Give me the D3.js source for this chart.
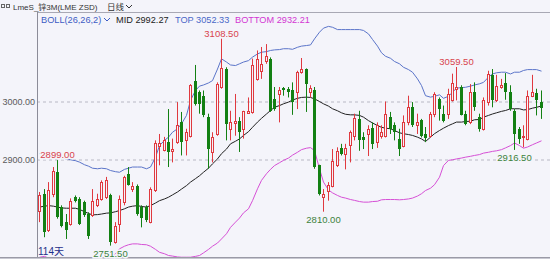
<!DOCTYPE html>
<html>
<head>
<meta charset="utf-8">
<script src="https://cdn.jsdelivr.net/npm/d3@7"></script>
<style>
  body { margin: 0; background: #f4f4fa; }
  svg { display: block; font-family: "Liberation Sans", Arial, "Noto Sans CJK SC", sans-serif; }
</style>
</head>
<body>
<div id="container"></div>
<script>
/* CONSTANTS AND GLOBALS */
const width = 550,
  height = 259,
  plot = { left: 37, right: 550, top: 13, bottom: 257 };

// daily candles (114 days)
const openP = [2812,2841,2778,2841,2878,2818,2793,2789,2835,2832,2826,2806,2804,2821,2832,2835,2839,2757.5,2789,2826,
  2875,2849,2855,2818,2818,2792,2847,2924,2917,2930,2914,2930,2964,2933,2941,3036,3016,3010,2973,2913,
  2944,3025,3056,2953,2963,2966,2953,2980,2982,3039,3053,3069,3074,3005,3013,3023,3022,3019,3016,3051,
  3056,3017,3019,2891,2835,2845,2855,2891,2920,2910,2925,2941,2970,2938,2944,2954,2930,2941,2941,2973,
  2959,2936,2924,2964,2990,2959,2968,2944,2941,2979,3005,2979,2979,3002,3022,3025,2979,2964,3017,2974,
  2953,2999,3045,3002,3025,3032,3016,2984,2953,2938.5,2936,3010,3015,2999];
const highP = [2844,2849,2861,2887,2899,2821,2806,2833,2838,2835,2829,2809,2849,2841,2864,2870,2841,2792,2838,2872,
  2887,2861,2857,2821,2821,2852,2933,2944,2939,2987,2936,2999,2982,2953,3030,3063,3019,3019,2979,2947,
  3033,3108.5,3059,2984,3013,2973,2984,3007,3074,3088,3094,3099,3076,3025,3025,3025,3025,3033,3053,3075,
  3057,3028,3025,2891,2849,2861,2918,2921,2927,2927,2950,2979,2984,2947,2959,2964,2964,2959,3000,2982,
  2964,2953,2976,3010,2999,2979,2970,2956,2982,3016,3007,2993,3022,3048,3059.5,3028,2984,3030,3033,2979,
  3007,3053,3056,3046,3039,3049,3028,2987,2956,2959,3019,3046,3022,3019];
const lowP = [2792,2766,2775,2835,2798,2783,2763,2786,2826,2787,2801,2763,2801,2818,2829,2832,2751.5,2755,2775,2821,
  2855,2844,2803,2783,2792,2790,2844,2890,2914,2887,2895,2927,2907,2907,2938,2993,2979,2973,2884,2895,
  2941,3022,2933,2933,2941,2913,2936,2979,2979,3036,3039,3065,2982,2984,2964,3010,3007,2977,2987,3048,
  2982,3007,2884,2838,2810,2829,2852,2887,2907,2883,2895,2933,2915,2918,2906,2918,2920,2936,2938,2944,
  2933,2906,2921,2959,2956,2944,2938,2930,2938,2973,2967,2964,2970,3000,3002,2976,2959,2961,2984,2948,
  2950,2993,2990,2999,3022,3003,2984,2916.5,2927,2921,2933,3007.5,2976,2970];
const closeP = [2839,2775,2848,2881,2801,2786,2779,2829,2829,2789,2804,2768,2829,2832,2861,2864,2757.5,2786,2832,2870,
  2856,2854,2806,2799,2795,2849,2929,2929,2933,2913,2918,2959,2930,2947,3028,2996,2996,2976,2918,2939,
  3030,3057,2961,2964,2967,2948,2983,2983,3063,3074,3065,3079,2984,2987,3019,3019,3016,3000,3051,3056,
  3030,3023,2887,2841,2840,2856,2897,2915,2910,2920,2947,2971,2933,2933,2952,2927,2960,2948,2979,2952,
  2948,2918,2964,2990,2959,2964,2941,2937,2979,3013,2987,2967,3013,3032,3025,2977,2961,3017,2990,2953,
  3002,3048,3002,3026,3029,3016,2987,2944,2936,2941,3010,3016,3002,2988];

// BOLL(26,26,2) lines as drawn
const midBand = [2818,2819.5,2820.5,2819.5,2818,2816.5,2816,2816,2816,2814,2810,2807,2804.5,2805,2806,2807.5,2808,2810,2812,2815,
  2818,2819.5,2820.5,2819,2818,2820.5,2825,2829,2832,2835,2839,2844,2849,2855,2861,2867,2872,2878,2885,2892.5,
  2901,2910,2918,2927,2931.5,2935.5,2941.5,2948,2955.5,2964.5,2971,2978.5,2984.5,2990,2993,2996,2999,3002.5,3005.5,3007,
  3007.5,3007,3004.5,3000,2996,2992,2987.5,2984,2980.5,2978,2977,2977,2976,2973,2967,2963,2958.5,2955.5,2954,2953,
  2950,2946,2944.5,2943,2941.5,2938.5,2935.5,2931,2938.5,2944.5,2950,2954,2958.5,2961.5,2964.5,2964.5,2965.5,2966,2968.5,2969,
  2973,2976,2978.5,2980.5,2983,2984.5,2987.5,2987.5,2987.5,2985.5,2986,2988.5,2990,2992.27];
const topBand = [2910,2910,2910,2908,2905,2903,2901,2899.5,2898,2895.5,2891,2888.5,2885,2884,2885,2884,2881,2879,2878,2883,
  2885,2887,2887,2887,2884,2887,2904,2924,2933,2938.5,2947,2953,2961.5,2976,3002,3019,3026.5,3028.5,3032,3036,
  3056,3073.5,3068,3063,3062,3065,3068,3070.5,3076.5,3082,3085,3086,3088,3089,3089.5,3091,3091,3090,3093.5,3095.5,
  3096.5,3097.5,3108,3119.5,3126.5,3129.5,3128,3124,3124,3124,3124,3124,3124,3122.5,3116.5,3107,3095.5,3084,3078,3074.5,
  3069,3065,3059,3055,3050.5,3039,3027.5,3010,3007.5,3009,3011.5,3005.5,3009,3016,3023,3024,3024.5,3026.5,3028.5,3030.5,
  3033,3042,3047.5,3049.5,3050.5,3050.5,3047.5,3050.5,3050.5,3053.5,3055,3055,3055,3052.33];
const bottomBand = [2731.5,2733,2730,2728.5,2728.5,2727.5,2727.5,2728.5,2728.5,2727.5,2726,2723,2722,2723,2726,2728.5,2731.5,2737.5,2746,2750.5,
  2753,2754.5,2754.5,2753.5,2753,2750.5,2745,2740,2737.5,2734.5,2733.5,2732,2731.5,2731.5,2731.5,2733,2734.5,2739,2745,2750.5,
  2756,2763,2772,2783,2792,2799,2808,2815,2829,2849.5,2864,2875.5,2883,2889.5,2894.5,2898.5,2902.5,2907.5,2912.5,2917,
  2919.5,2920.5,2915.5,2884,2861,2847.5,2842.5,2838,2835,2833.5,2831,2829.5,2827.5,2826.5,2826.5,2827.5,2828,2830.5,2831,2831,
  2831,2830.5,2831,2832,2833.5,2837,2841,2846.5,2850.5,2856.5,2869.5,2889.5,2898.5,2899.5,2901,2902.5,2904,2905.5,2907,2908.5,
  2911,2912.5,2914,2915,2917,2920,2924,2928.5,2924,2919.5,2921.5,2925.5,2928.5,2932.21];

const yTicks = [2900, 3000];
// highest / lowest marks printed on the chart
const markIndex = [4, 16, 41, 64, 94, 107];
const markValue = [2899.00, 2751.50, 3108.50, 2810.00, 3059.50, 2916.50];
const markSide = ["high", "low", "high", "low", "high", "low"];

const n = closeP.length;
const candles = d3.range(n).map(i => ({ i, o: openP[i], h: highP[i], l: lowP[i], c: closeP[i] }));

const UP = "#e0393f", DOWN = "#138013", BG = "#f4f4fa";

/* SCALES */
const x = d3.scaleBand().domain(d3.range(n)).range([37, 543]).padding(0);
const cx = i => Math.round(x(i) + x.bandwidth() / 2);
const y = d3.scaleLinear().domain([2900, 3000]).range([159.5, 101.5]);

const svg = d3.select("#container").append("svg")
  .attr("width", width)
  .attr("height", height);

svg.append("rect").attr("width", width).attr("height", height).attr("fill", BG);

svg.append("clipPath").attr("id", "clip")
  .append("rect")
  .attr("x", plot.left + 1).attr("y", plot.top)
  .attr("width", plot.right - plot.left).attr("height", plot.bottom - plot.top);

// GRID + Y AXIS
svg.append("g")
  .attr("transform", `translate(${plot.left},0)`)
  .call(d3.axisRight(y).tickValues(yTicks).tickSize(plot.right - plot.left).tickFormat(""))
  .call(g => g.select(".domain").remove())
  .call(g => g.selectAll("line").attr("stroke", "#b8b8c4").attr("stroke-dasharray", "3,3"));

svg.append("g")
  .attr("transform", `translate(${plot.left},0)`)
  .call(d3.axisLeft(y).tickValues(yTicks).tickSize(0).tickPadding(2).tickFormat(d3.format(".2f")))
  .call(g => g.select(".domain").remove())
  .call(g => g.selectAll("text")
    .attr("fill", "#5a5a5a")
    .attr("font-size", 9)
    .attr("font-family", "Liberation Sans, Arial, sans-serif"));

// frame lines
svg.append("line").attr("x1", plot.left).attr("x2", width).attr("y1", 12.5).attr("y2", 12.5).attr("stroke", "#a8a8b4");
svg.append("line").attr("x1", plot.left + 0.5).attr("x2", plot.left + 0.5).attr("y1", 12).attr("y2", plot.bottom).attr("stroke", "#8c8c98");
svg.append("line").attr("x1", 0).attr("x2", width).attr("y1", 257.5).attr("y2", 257.5).attr("stroke", "#9a9aa6");
svg.append("line").attr("x1", 0).attr("x2", width).attr("y1", 258.5).attr("y2", 258.5).attr("stroke", "#c8c8d2");

const chart = svg.append("g").attr("clip-path", "url(#clip)");

// BOLL LINES
const lineGen = d3.line().x((d, i) => cx(i) + 0.5).y(d => y(d));
chart.append("path").datum(topBand).attr("d", lineGen).attr("fill", "none").attr("stroke", "#5b74c9").attr("stroke-width", 1);
chart.append("path").datum(bottomBand).attr("d", lineGen).attr("fill", "none").attr("stroke", "#d650d6").attr("stroke-width", 1);
chart.append("path").datum(midBand).attr("d", lineGen).attr("fill", "none").attr("stroke", "#222").attr("stroke-width", 1);

// CANDLES
const g = chart.selectAll("g.candle")
  .data(candles)
  .join("g")
  .attr("class", "candle");

// wicks
g.filter(d => d.c < d.o).append("line")
  .attr("x1", d => cx(d.i) + 0.5).attr("x2", d => cx(d.i) + 0.5)
  .attr("y1", d => y(d.h)).attr("y2", d => y(d.l))
  .attr("stroke", DOWN);

g.filter(d => d.c >= d.o).append("line")
  .attr("x1", d => cx(d.i) + 0.5).attr("x2", d => cx(d.i) + 0.5)
  .attr("y1", d => y(d.h)).attr("y2", d => Math.round(y(d.c)))
  .attr("stroke", UP);
g.filter(d => d.c >= d.o).append("line")
  .attr("x1", d => cx(d.i) + 0.5).attr("x2", d => cx(d.i) + 0.5)
  .attr("y1", d => Math.round(y(d.o))).attr("y2", d => y(d.l))
  .attr("stroke", UP);

// bodies
g.filter(d => d.c < d.o).append("rect")
  .attr("x", d => cx(d.i) - 1)
  .attr("width", 3)
  .attr("y", d => Math.round(y(d.o)))
  .attr("height", d => Math.max(1, Math.round(y(d.c)) - Math.round(y(d.o))))
  .attr("fill", DOWN);

g.filter(d => d.c >= d.o).append("rect")
  .attr("x", d => cx(d.i) - 0.5)
  .attr("width", 2)
  .attr("y", d => Math.round(y(d.c)) + 0.5)
  .attr("height", d => Math.max(0, Math.round(y(d.o)) - Math.round(y(d.c))))
  .attr("fill", BG)
  .attr("stroke", UP);

// HIGH / LOW MARKS
svg.selectAll("text.mark")
  .data(markIndex)
  .join("text")
  .attr("class", "mark")
  .attr("x", (d, k) => cx(d) + 0.5)
  .attr("y", (d, k) => markSide[k] === "high" ? y(markValue[k]) - 2 : y(markValue[k]) + 11)
  .attr("text-anchor", "middle")
  .attr("font-size", 9.5)
  .attr("fill", (d, k) => markSide[k] === "high" ? "#d8434c" : "#3c823c")
  .attr("stroke", BG)
  .attr("stroke-width", 3)
  .attr("paint-order", "stroke")
  .text((d, k) => d3.format(".2f")(markValue[k]));

// HEADER
svg.append("rect").attr("x", 1.5).attr("y", 4.5).attr("width", 3).attr("height", 3).attr("fill", "none").attr("stroke", "#666");
svg.append("rect").attr("x", 6.5).attr("y", 4.5).attr("width", 3).attr("height", 3).attr("fill", "none").attr("stroke", "#666");
svg.append("text").attr("x", 13).attr("y", 9.5).attr("font-size", 8).attr("fill", "#333").text("LmeS_锌3M(LME ZSD)");
svg.append("text").attr("x", 107).attr("y", 9.5).attr("font-size", 8.5).attr("fill", "#333").text("日线");
svg.append("path").attr("d", "M126,5 L129,8 L132,5").attr("fill", "none").attr("stroke", "#333");

const legend = [
  { x: 41, text: "BOLL(26,26,2)", color: "#3d5cc4" },
  { x: 116, text: "MID 2992.27", color: "#222" },
  { x: 175, text: "TOP 3052.33", color: "#4a67c8" },
  { x: 235, text: "BOTTOM 2932.21", color: "#d336d3" }
];
svg.selectAll("text.legend")
  .data(legend)
  .join("text")
  .attr("class", "legend")
  .attr("x", d => d.x)
  .attr("y", 22.5)
  .attr("font-size", 9.2)
  .attr("fill", d => d.color)
  .text(d => d.text);
svg.append("path").attr("d", "M104,18 L107,21 L110,18").attr("fill", "none").attr("stroke", "#3d5cc4");

svg.append("text").attr("x", 38).attr("y", 254.5).attr("font-size", 10).attr("fill", "#1f2f8a").text("114天");
</script>
</body>
</html>
